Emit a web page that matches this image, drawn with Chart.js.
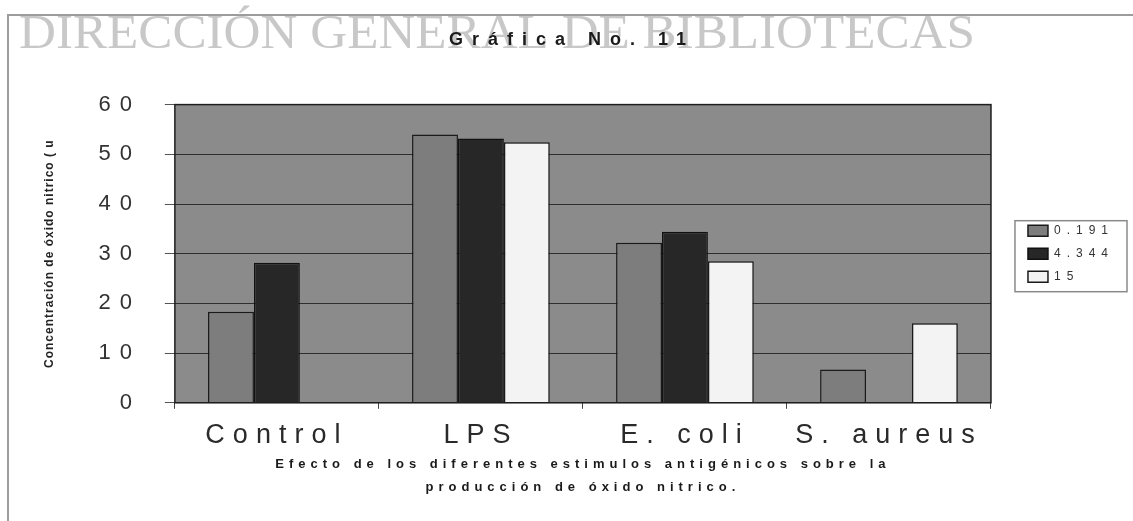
<!DOCTYPE html>
<html>
<head>
<meta charset="utf-8">
<script src="https://cdn.jsdelivr.net/npm/chart.js@4"></script>
<style>
  html, body { margin: 0; padding: 0; background: #ffffff; }
  #wrap { width: 1133px; height: 521px; }
</style>
</head>
<body>
<div id="wrap"><canvas id="chartCanvas"></canvas></div>
<script>
// data
var categories = ['Control', 'LPS', 'E. coli', 'S. aureus'];
var seriesNames = ['0.191', '4.344', '15'];
var values0191 = [18.3, 54.0, 32.2, 6.7];
var values4344 = [28.2, 53.2, 34.4, null];
var values15 = [null, 52.4, 28.5, 16.0];
var yMin = 0, yMax = 60, yStep = 10;

var titleText = 'Gráfica No. 11';
var xTitle = ['Efecto de los diferentes estimulos antigénicos sobre la', 'producción de óxido nitrico.'];
var yTitle = 'Concentración de óxido nitrico ( u';
var watermark = 'DIRECCIÓN GENERAL DE BIBLIOTECAS';

// the scan uses wide letter spacing, picked here by font weight + size
var spacingByFont = { '22': '9px', '27': '8px', 'b18': '9px', 'b13': '5px', 'b12': '1px', '12': '6px' };

var letterSpacing = {
  id: 'letterSpacing',
  beforeInit: function(chart) {
    var ctx = chart.ctx;
    var fill = ctx.fillText.bind(ctx);
    var measure = ctx.measureText.bind(ctx);
    function pick() {
      var m = ctx.font.match(/(\d+)px/);
      var key = (/bold|700/.test(ctx.font) ? 'b' : '') + (m ? m[1] : '');
      ctx.letterSpacing = spacingByFont[key] || '0px';
    }
    ctx.fillText = function(t, x, y, w) {
      pick();
      if (w === undefined) fill(t, x, y); else fill(t, x, y, w);
    };
    ctx.measureText = function(t) { pick(); return measure(t); };
  }
};

var paper = {
  id: 'paper',
  beforeDraw: function(chart) {
    var ctx = chart.ctx, a = chart.chartArea;
    ctx.save();
    // page frame
    ctx.strokeStyle = '#9c9c9c';
    ctx.lineWidth = 2;
    ctx.beginPath();
    ctx.moveTo(8, 521); ctx.lineTo(8, 15); ctx.lineTo(1133, 15);
    ctx.stroke();
    // watermark, stretched to the scan's width
    ctx.fillStyle = 'rgba(190,190,190,0.85)';
    ctx.font = '48px "Liberation Serif"';
    ctx.textBaseline = 'alphabetic';
    var w = ctx.measureText(watermark).width;
    ctx.translate(19, 48);
    ctx.scale(956 / w, 1);
    ctx.fillText(watermark, 0, 0);
    ctx.restore();
    ctx.save();
    // plot background
    ctx.fillStyle = '#8b8b8b';
    ctx.fillRect(a.left, a.top, a.right - a.left, a.bottom - a.top);
    ctx.restore();
  },
  afterDraw: function(chart) {
    var ctx = chart.ctx, a = chart.chartArea;
    ctx.save();
    ctx.strokeStyle = '#1e1e1e';
    ctx.lineWidth = 1.5;
    ctx.strokeRect(a.left, a.top, a.right - a.left, a.bottom - a.top);
    // legend frame
    var boxes = chart.legend.legendHitBoxes;
    var l = Infinity, t = Infinity, r = -Infinity, b = -Infinity;
    boxes.forEach(function(h) {
      l = Math.min(l, h.left); t = Math.min(t, h.top);
      r = Math.max(r, h.left + h.width); b = Math.max(b, h.top + h.height);
    });
    ctx.strokeStyle = '#8a8a8a';
    ctx.lineWidth = 1.5;
    ctx.strokeRect(l - 13, t - 4, r - l + 26, b - t + 13);
    ctx.restore();
  }
};

var ctx = document.getElementById('chartCanvas').getContext('2d');
var chart = new Chart(ctx, {
  type: 'bar',
  data: {
    labels: categories,
    datasets: [
      { label: seriesNames[0], data: values0191, backgroundColor: '#7d7d7d', borderColor: '#1a1a1a', borderWidth: 1.5 },
      { label: seriesNames[1], data: values4344, backgroundColor: '#272727', borderColor: '#111111', borderWidth: 1.5 },
      { label: seriesNames[2], data: values15, backgroundColor: '#f3f3f3', borderColor: '#1a1a1a', borderWidth: 1.5 }
    ]
  },
  plugins: [letterSpacing, paper],
  options: {
    responsive: true,
    maintainAspectRatio: false,
    animation: false,
    categoryPercentage: 0.675,
    barPercentage: 1.0,
    layout: { padding: { left: 20, right: 9, top: 0, bottom: 4 } },
    plugins: {
      title: {
        display: true,
        text: titleText,
        color: '#1a1a1a',
        font: { family: 'Liberation Sans', size: 18, weight: 'bold', lineHeight: 1.2 },
        padding: { top: 29, bottom: 54 }
      },
      legend: {
        position: 'right',
        fullSize: false,
        labels: {
          boxWidth: 20,
          boxHeight: 11,
          padding: 11,
          color: '#333333',
          font: { family: 'Liberation Sans', size: 12 }
        }
      },
      tooltip: { enabled: false }
    },
    scales: {
      x: {
        grid: { offset: true, drawOnChartArea: false, drawTicks: true, tickLength: 6, color: '#444444' },
        border: { display: false },
        ticks: { color: '#2a2a2a', padding: 13.5, font: { family: 'Liberation Sans', size: 27, lineHeight: 1.0 } },
        title: {
          display: true,
          text: xTitle,
          color: '#1a1a1a',
          font: { family: 'Liberation Sans', size: 13, weight: 'bold', lineHeight: 1.7 },
          padding: { top: -9, bottom: 19 }
        }
      },
      y: {
        min: yMin,
        max: yMax,
        ticks: { stepSize: yStep, color: '#333333', padding: 24, font: { family: 'Liberation Sans', size: 22 } },
        grid: { color: '#2e2e2e', lineWidth: 1, tickLength: 10, tickColor: '#555555' },
        border: { display: false },
        title: {
          display: true,
          text: yTitle,
          color: '#222222',
          font: { family: 'Liberation Sans', size: 12, weight: 'bold' },
          padding: { top: 22, bottom: 18 }
        }
      },
      gap: {
        type: 'linear',
        position: 'right',
        grid: { display: false },
        ticks: { display: false },
        border: { display: false },
        afterFit: function(scale) { scale.width = 26; }
      }
    }
  }
});
</script>
</body>
</html>
